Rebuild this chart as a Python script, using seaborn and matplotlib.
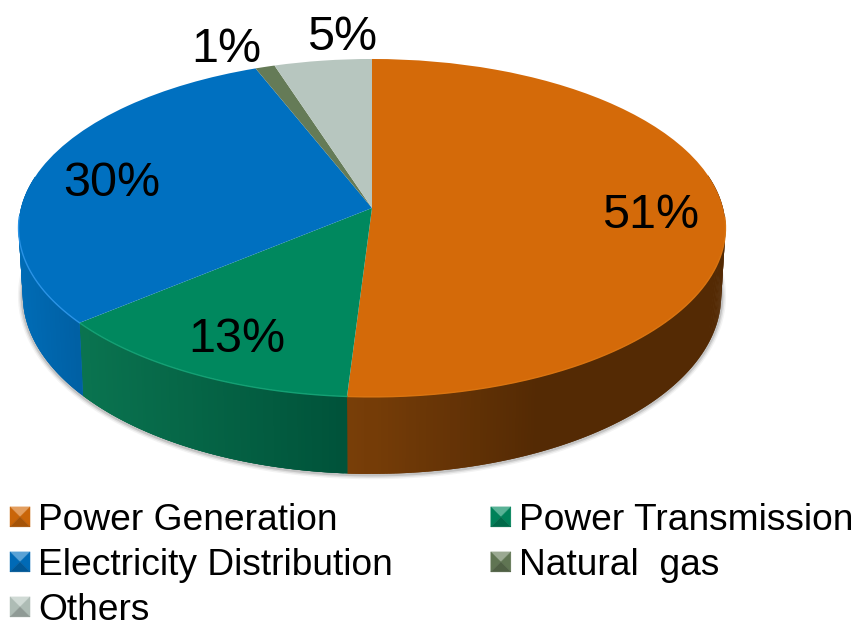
import numpy as np
import matplotlib
matplotlib.use('Agg')
import matplotlib.pyplot as plt
import seaborn as sns
from matplotlib.colors import LinearSegmentedColormap, to_rgb
from matplotlib.legend_handler import HandlerBase
from matplotlib.patches import Patch, Polygon
from matplotlib.transforms import Transform

categories = ['Power Generation', 'Power Transmission', 'Electricity Distribution', 'Natural  gas', 'Others']
shares = [51, 13, 30, 1, 5]
top_colors = ['#d46a09', '#00885e', '#0070c0', '#657b57', '#b7c6bf']
rim_colors = ['#da7410', '#14a074', '#2a93e6', '#657b57', '#b7c6bf']
wall_colors = [['#7a3f08', '#542a04', '#542a04'],
               ['#0a7450', '#00533a'],
               ['#006cb6', '#0060a4'],
               ['#4c5e42', '#4c5e42'],
               ['#8c9a94', '#8c9a94']]
label_xy = [(651, 216), (237, 340), (112, 183), (226, 49), (342, 37)]

# pie geometry in pixels
CX, CY = 372, 208
RX, RY, TILT = 351, 166.6, 0.118


class Perspective(Transform):
    """Unit disc to tilted disc, in figure pixels."""
    input_dims = 2
    output_dims = 2

    def transform_non_affine(self, values):
        values = np.asarray(values, dtype=float)
        u, v = values[:, 0], values[:, 1]
        w = 1 + TILT * v
        return np.column_stack([CX + RX * u / w, CY - RY * v / w])


class BevelHandler(HandlerBase):
    """Small square legend key cut in four lit triangles."""

    def create_artists(self, legend, orig, xd, yd, width, height, fontsize, trans):
        base = np.array(to_rgb(orig.get_facecolor()))
        s = width
        x0, y0 = -xd, -yd + (height - s) / 2
        mid = (x0 + s / 2, y0 + s / 2)
        a, b, c, d = (x0, y0), (x0 + s, y0), (x0 + s, y0 + s), (x0, y0 + s)
        light = base + (1 - base) * 0.35
        dark = base * 0.78
        side = base * 0.95
        out = []
        for pts, col in [((d, c, mid), light), ((a, d, mid), side),
                         ((b, c, mid), side), ((a, b, mid), dark)]:
            out.append(Polygon(pts, closed=True, facecolor=col, edgecolor=col, lw=0.3, transform=trans))
        return out


def rim_points(theta):
    """Top rim and lower wall edge for clockwise angles from 12 o'clock."""
    u, v = np.sin(theta), np.cos(theta)
    top = Perspective().transform_non_affine(np.column_stack([u, v]))
    low = top.copy()
    low[:, 0] = CX + (top[:, 0] - CX) * 0.988
    low[:, 1] = top[:, 1] + 66 - 11 * v
    return top, low


def draw_walls(ax, edges):
    for i in range(len(shares)):
        theta = np.linspace(edges[i], edges[i + 1], max(int(np.degrees(edges[i + 1] - edges[i])) * 2, 2))
        top, low = rim_points(theta)
        cmap = LinearSegmentedColormap.from_list(f'wall{i}', wall_colors[i])
        keep = np.cos(theta) < 0.2
        xs = top[keep, 0]
        if len(xs) < 2:
            continue
        pos = (xs - xs.min()) / (xs.max() - xs.min())
        # strips drawn from the far side inward, each overlapping the next, so no seams show
        steps = np.argsort(np.abs(np.sin(theta[keep])))[::-1]
        idx = np.where(keep)[0]
        for j in steps:
            a = idx[j]
            b = idx[min(j + 2, len(idx) - 1)] if np.sin(theta[a]) < 0 and j + 2 < len(idx) else idx[min(j + 1, len(idx) - 1)]
            c = idx[max(j - 1, 0)]
            ax.fill([top[c, 0], top[b, 0], low[b, 0], low[c, 0]],
                    [top[c, 1], top[b, 1], low[b, 1], low[c, 1]],
                    facecolor=cmap(pos[j]), lw=0, zorder=2)
        front = np.cos(theta) < -0.05
        ax.plot(top[front, 0], top[front, 1], color=rim_colors[i], lw=1.0, zorder=4)


def main():
    sns.set_theme(style="white")
    plt.rcParams['font.family'] = ['Liberation Sans', 'DejaVu Sans']
    palette = sns.color_palette(top_colors)

    fig = plt.figure(figsize=(8.58, 6.2), dpi=100)
    ax = fig.add_axes([0, 0, 1, 1])

    wedges, _ = ax.pie(shares, colors=palette, startangle=90, counterclock=False, radius=1)
    persp = Perspective()
    for w in wedges:
        w.set_transform(persp + ax.transData)
        w.set_zorder(3)
        w.set_linewidth(0)

    ax.set_aspect('auto')
    ax.set_xlim(0, 858)
    ax.set_ylim(620, 0)
    ax.axis('off')

    edges = np.radians(np.concatenate([[0], np.cumsum(shares)]) * 3.6)
    draw_walls(ax, edges)

    # soft shadow round the lower edge
    theta = np.linspace(np.pi * 0.45, np.pi * 1.55, 200)
    _, low = rim_points(theta)
    for lw, alpha in [(7, 0.07), (5, 0.12), (3, 0.2)]:
        ax.plot(low[:, 0], low[:, 1] + 0.5, color='#555555', lw=lw, alpha=alpha, zorder=1, solid_capstyle='round')

    for v, (x, y) in zip(shares, label_xy):
        ax.text(x, y, f'{v}%', fontsize=34.9, color='black', ha='center', va='center', zorder=5)

    # column order of the legend: left three, right two
    order = [0, 2, 4, 1, 3]
    handles = [Patch(facecolor=top_colors[i]) for i in order]
    labels = [categories[i] for i in order]
    fs = 26.7
    leg = ax.legend(handles, labels, ncol=2, loc='upper left', bbox_to_anchor=(10 / 858, 1 - 503 / 620),
                    bbox_transform=fig.transFigure, fontsize=fs, frameon=False, borderpad=0, borderaxespad=0,
                    handlelength=0.54, handleheight=0.54, handletextpad=0.22, labelspacing=0.27,
                    columnspacing=2.64, handler_map={Patch: BevelHandler()})
    for t in leg.get_texts():
        t.set_color('black')

    fig.savefig('out.png', dpi=100)
    plt.close('all')


if __name__ == "__main__":
    main()
